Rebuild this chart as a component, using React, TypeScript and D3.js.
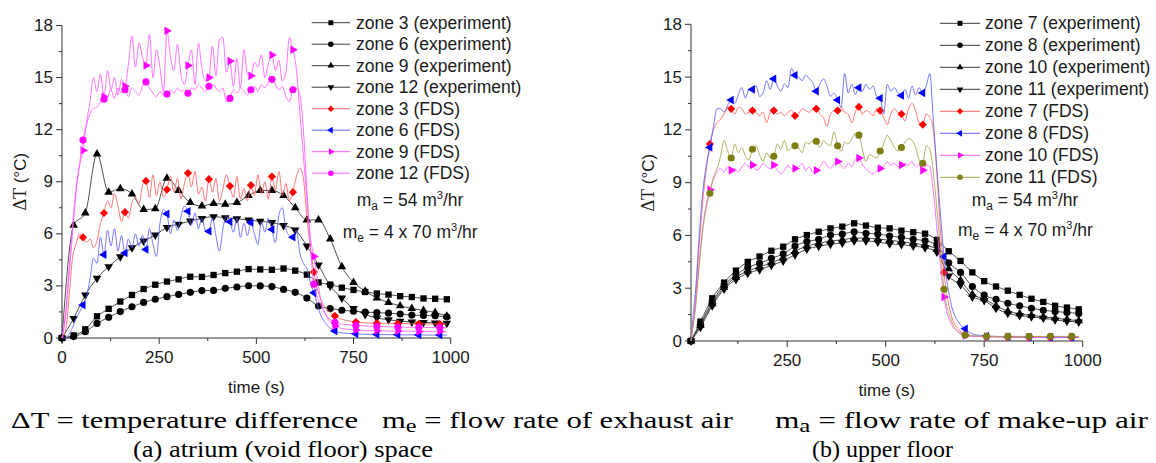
import React from 'react';
import * as d3 from 'd3';

// ---------- time grids ----------
const expTimes = d3.range(0, 1000, 30); // 34 samples
const fdsTimes = [...d3.range(0, 649, 9), ...d3.range(666, 1000, 18)]; // 92 samples

// ---------- axis ticks ----------
const yTicks = [0, 3, 6, 9, 12, 15, 18];
const yMinor = [1.5, 4.5, 7.5, 10.5, 13.5, 16.5];
const xTicksA = [0, 250, 500, 750, 1000];
const xTicksB = [250, 500, 750, 1000];
const xMinor = [125, 375, 625, 875];

// ---------- (a) atrium: experiments ----------
const zone3Exp = [0, 0.15, 0.5, 1.25, 1.68, 2.1, 2.48, 2.82, 3.07, 3.25, 3.38, 3.53, 3.52, 3.63, 3.74, 3.82, 3.97, 3.95, 3.93, 4.0, 3.88, 3.65, 3.2, 3.08, 2.9, 2.77, 2.65, 2.56, 2.5, 2.41, 2.36, 2.28, 2.26, 2.23];
const zone6Exp = [0, 0.08, 0.36, 0.84, 1.19, 1.52, 1.8, 2.05, 2.23, 2.38, 2.51, 2.63, 2.73, 2.74, 2.86, 2.94, 3.01, 3.0, 2.96, 2.8, 2.63, 2.3, 1.84, 1.7, 1.6, 1.54, 1.5, 1.46, 1.43, 1.38, 1.32, 1.3, 1.28, 1.22];
const zone9Exp = [0, 6.5, 7.2, 10.6, 8.4, 8.6, 8.3, 7.4, 7.45, 9.2, 8.5, 7.8, 7.6, 7.75, 7.7, 7.8, 8.2, 8.5, 8.5, 8.2, 7.5, 6.8, 6.8, 5.7, 4.1, 3.2, 2.7, 2.3, 2.05, 1.85, 1.7, 1.58, 1.47, 1.25];
const zone12Exp = [0, 1.13, 2.48, 3.44, 4.11, 4.68, 5.2, 5.59, 5.93, 6.37, 6.56, 6.74, 6.89, 6.99, 6.93, 6.87, 6.8, 6.72, 6.65, 6.48, 6.22, 5.3, 4.2, 3.0, 2.3, 1.7, 1.35, 1.15, 1.05, 0.97, 0.92, 0.9, 0.87, 0.85];

// ---------- (a) atrium: FDS ----------
const zone3Fds = [
  0, 0.4, 2.3, 4.6, 5.4, 6.0,
  5.8, 5.5, 5.7, 5.2, 5.6, 6.6,
  7.2, 7.9, 7.5, 8.3, 7.6, 6.7,
  7.25, 6.9, 7.8, 8.1, 7.7, 8.8,
  9.05, 8.1, 9.4, 8.2, 9.0, 8.1,
  8.55, 9.3, 8.4, 9.2, 8.0, 8.9,
  9.5, 8.7, 9.6, 8.3, 8.7, 7.9,
  9.15, 8.4, 9.2, 7.9, 8.6, 9.4,
  8.75, 8.1, 9.3, 8.0, 8.6, 7.9,
  8.8, 8.2, 9.4, 8.3, 9.0, 8.0,
  9.3, 8.5, 9.6, 8.2, 8.9, 7.9,
  8.4, 9.3, 9.8, 9.2, 7.0, 5.2,
  3.8,
  2.2, 1.6, 1.27, 1.08, 0.98, 0.92, 0.88, 0.86, 0.85, 0.84, 0.84, 0.83, 0.83, 0.82, 0.82, 0.81, 0.81, 0.8, 0.8,
];
const zone6Fds = [
  0, 0, 0.2, 0.6, 1.1, 1.5,
  1.9, 2.4, 3.4, 4.6, 4.3, 5.8,
  4.8, 6.2, 5.3, 6.3, 5.0, 5.9,
  4.9, 5.7, 5.2, 6.0, 5.3, 5.9,
  5.1, 6.3, 5.4, 4.7, 6.6, 7.4,
  7.15, 6.0, 6.8, 6.2, 7.0, 7.6,
  7.3, 6.5, 7.2, 6.3, 6.9, 6.2,
  6.15, 6.9, 5.9, 5.0, 6.3, 7.0,
  6.7, 6.1, 6.9, 5.8, 6.6, 5.9,
  6.65, 6.0, 5.4, 6.7, 6.1, 6.9,
  6.25, 5.5, 7.1, 7.5, 6.3, 5.9,
  5.8, 6.2, 4.9, 4.3, 4.0, 3.2,
  2.6,
  1.3, 0.7, 0.4, 0.3, 0.26, 0.24, 0.22, 0.21, 0.2, 0.2, 0.19, 0.19, 0.18, 0.18, 0.18, 0.17, 0.17, 0.17, 0.17,
];
const zone9Fds = [
  0, 1.4, 3.9, 6.4, 8.6, 9.9,
  10.8, 12.4, 13.6, 15.0, 14.2, 15.2,
  13.9, 15.4, 14.3, 15.0, 14.0, 14.9,
  14.5, 15.8, 17.4, 15.6, 17.0, 16.2,
  15.7, 17.5, 15.0, 16.6, 15.6, 14.2,
  17.7, 16.2, 15.4, 16.9, 15.2, 14.6,
  15.7, 16.6, 14.6, 17.0, 15.5, 14.8,
  15.0, 16.8, 15.1, 17.2, 17.3, 15.3,
  15.95, 14.5, 16.1, 14.4, 16.6, 15.2,
  15.1, 15.9, 15.6, 16.3, 15.0, 15.8,
  16.3, 15.4, 16.0, 14.8, 15.3, 17.3,
  16.6, 15.5, 13.0, 10.5, 8.0, 5.8,
  4.7,
  2.2, 1.1, 0.7, 0.55, 0.5, 0.46, 0.44, 0.43, 0.42, 0.41, 0.4, 0.4, 0.39, 0.39, 0.38, 0.38, 0.37, 0.37, 0.37,
];
const zone12Fds = [
  0, 1.2, 3.5, 6.0, 8.3, 10.0,
  11.4, 12.3, 12.9, 13.2, 13.3, 13.6,
  13.75, 13.9, 14.3, 13.8, 14.4, 14.1,
  14.3, 13.9, 14.4, 14.2, 14.0, 14.5,
  14.75, 14.4, 14.1, 13.9, 14.2, 14.0,
  14.05, 14.3, 14.1, 14.4, 14.2, 14.3,
  14.1, 14.4, 14.3, 14.6, 14.4, 14.2,
  14.5, 14.6, 14.4, 14.2, 14.4, 13.6,
  13.8, 14.3, 14.1, 14.4, 14.2, 14.0,
  14.3, 14.5, 14.2, 14.6, 14.4, 14.7,
  14.9, 14.6, 14.3, 14.5, 13.9, 13.6,
  14.3, 14.4, 14.0, 12.0, 8.5, 5.3,
  3.1,
  1.9, 1.2, 0.9, 0.8, 0.76, 0.73, 0.7, 0.68, 0.66, 0.65, 0.64, 0.63, 0.62, 0.62, 0.61, 0.6, 0.6, 0.6, 0.59,
];

// ---------- (b) upper floor: experiments ----------
const zone7Exp = [0, 1.1, 2.43, 3.32, 4.0, 4.5, 4.8, 5.13, 5.36, 5.78, 6.02, 6.21, 6.4, 6.5, 6.69, 6.56, 6.44, 6.4, 6.27, 6.18, 6.1, 5.75, 5.1, 4.55, 3.9, 3.4, 3.1, 2.86, 2.62, 2.4, 2.22, 2.0, 1.9, 1.8];
const zone8Exp = [0, 0.97, 2.24, 3.18, 3.75, 4.19, 4.41, 4.7, 4.95, 5.4, 5.65, 5.78, 6.02, 6.08, 6.21, 6.12, 6.08, 5.97, 5.89, 5.78, 5.7, 5.45, 4.45, 3.9, 3.1, 2.61, 2.37, 2.14, 2.0, 1.86, 1.75, 1.68, 1.62, 1.57];
const zone10Exp = [0, 0.88, 2.12, 3.05, 3.62, 3.98, 4.2, 4.45, 4.72, 5.1, 5.4, 5.55, 5.68, 5.75, 5.85, 5.85, 5.8, 5.72, 5.65, 5.55, 5.45, 5.2, 4.1, 3.45, 2.65, 2.4, 2.0, 1.7, 1.55, 1.45, 1.38, 1.3, 1.22, 1.15];
const zone11Exp = [0, 0.78, 2.0, 2.95, 3.5, 3.85, 4.05, 4.3, 4.55, 4.9, 5.22, 5.38, 5.5, 5.57, 5.68, 5.68, 5.62, 5.52, 5.48, 5.4, 5.3, 5.05, 3.7, 3.2, 2.5, 2.3, 1.86, 1.57, 1.45, 1.38, 1.3, 1.2, 1.12, 1.08];

// ---------- (b) upper floor: FDS ----------
const zone7Fds = [
  0, 0.5, 2.5, 5.5, 8.0, 9.8,
  11.2, 12.0, 12.4, 12.6, 12.9, 13.3,
  13.2, 12.9, 13.3, 13.2, 12.9, 13.0,
  13.1, 13.0, 12.8, 13.0, 12.4, 13.0,
  13.1, 12.9, 13.0, 12.8, 13.0, 13.1,
  12.8, 12.9, 13.2, 13.1, 13.0, 13.2,
  13.2, 12.9, 12.7, 12.2, 12.9, 13.1,
  13.1, 13.3, 13.0, 12.9, 12.4, 13.0,
  13.3, 12.9, 13.1, 13.0, 12.8, 13.2,
  13.1, 12.7, 12.3, 12.9, 13.2, 13.0,
  12.9, 12.5, 13.2, 13.5, 13.1, 12.4,
  12.3, 12.9, 12.7, 12.0, 9.5, 6.3,
  3.9,
  1.5, 0.7, 0.35, 0.28, 0.25, 0.24, 0.23, 0.22, 0.22, 0.21, 0.21, 0.21, 0.2, 0.2, 0.2, 0.2, 0.2, 0.2, 0.2,
];
const zone8Fds = [
  0, 0.8, 3.0, 6.0, 8.5, 10.0,
  11.0, 12.2, 13.2, 13.2, 13.0, 13.4,
  13.7, 13.5, 14.0, 14.4, 13.8, 14.3,
  14.3, 14.5, 13.9, 14.1, 14.8, 14.3,
  14.9, 14.5, 14.2, 14.6, 14.4, 15.5,
  15.1, 15.0, 14.8, 15.1, 14.9, 14.7,
  14.2, 14.6, 14.9, 14.5, 13.9, 14.1,
  13.7, 13.3, 15.2, 14.1, 14.6, 14.0,
  14.4, 14.2, 14.6, 14.3, 14.5, 13.9,
  13.8, 12.9, 14.6, 14.2, 14.4, 14.1,
  13.95, 14.3, 13.8, 14.5, 14.0, 14.4,
  14.1, 14.5, 15.2, 12.5, 9.8, 7.2,
  4.8,
  2.1, 1.1, 0.7, 0.4, 0.32, 0.28, 0.26, 0.25, 0.24, 0.24, 0.23, 0.23, 0.23, 0.22, 0.22, 0.22, 0.22, 0.22, 0.22,
];
const zone10Fds = [
  0, 0.6, 2.2, 4.5, 6.5, 7.8,
  8.6, 9.2, 9.6, 9.8, 9.6, 9.9,
  9.7, 9.8, 9.6, 9.9, 10.1, 9.9,
  10.0, 9.7, 9.8, 10.1, 9.9, 9.8,
  10.0, 9.7, 9.5, 9.7, 10.0, 9.8,
  9.8, 9.9, 10.1, 9.7, 9.9, 9.6,
  9.7, 9.9, 10.2, 10.0, 9.8, 10.1,
  10.2, 10.0, 9.8, 10.1, 9.9, 10.3,
  10.4, 10.0, 9.8, 9.6, 9.5, 9.7,
  9.8, 9.9, 10.2, 10.0, 10.1, 9.9,
  10.0, 10.1, 10.0, 10.2, 9.9, 10.0,
  9.7, 10.0, 9.9, 8.5, 6.4, 4.3,
  2.5,
  1.0, 0.5, 0.32, 0.27, 0.26, 0.25, 0.25, 0.24, 0.24, 0.24, 0.24, 0.23, 0.23, 0.23, 0.23, 0.23, 0.23, 0.23, 0.23,
];
const zone11Fds = [
  0, 0.5, 2.0, 4.3, 6.3, 7.6,
  8.4, 9.3, 9.8, 10.5, 11.4, 10.8,
  10.4, 11.2, 10.7, 11.0, 10.5, 10.3,
  10.9, 11.1, 10.6, 10.2, 10.7, 10.4,
  10.5, 11.2, 10.9, 11.4, 10.8, 11.0,
  11.1, 11.0, 10.7, 11.3, 11.2, 11.4,
  11.35, 11.0, 11.4, 11.2, 11.1, 11.9,
  11.1, 10.8, 11.3, 11.2, 11.5, 11.8,
  11.7, 10.9, 10.2, 10.6, 10.5, 10.4,
  10.8, 11.2, 11.7, 11.4, 11.0, 10.8,
  11.0, 11.3, 11.5, 11.4, 11.0, 10.3,
  10.1, 11.1, 10.9, 9.6, 7.5, 5.2,
  2.94,
  1.2, 0.55, 0.34, 0.3, 0.28, 0.27, 0.27, 0.26, 0.26, 0.26, 0.26, 0.26, 0.26, 0.26, 0.26, 0.26, 0.26, 0.26, 0.26,
];

// ---------- legend labels ----------
const legendA = ['zone 3 (experiment)', 'zone 6 (experiment)', 'zone 9 (experiment)', 'zone 12 (experiment)', 'zone 3 (FDS)', 'zone 6 (FDS)', 'zone 9 (FDS)', 'zone 12 (FDS)'];
const legendB = ['zone 7 (experiment)', 'zone 8 (experiment)', 'zone 10 (experiment)', 'zone 11 (experiment)', 'zone 7 (FDS)', 'zone 8 (FDS)', 'zone 10 (FDS)', 'zone 11 (FDS)'];

const SANS = "'Liberation Sans', Arial, sans-serif";
const SERIF = "'Liberation Serif', 'Times New Roman', serif";
const TXT = '#1a1a1a';

type Shape = 'square' | 'circle' | 'up' | 'down' | 'diamond' | 'left' | 'right';
type Style = { shape: Shape; line: string; mark: string; lw: number };

const EXP_LINE = '#3a3a3a';
const styles: Style[] = [
  { shape: 'square', line: EXP_LINE, mark: '#000', lw: 0.9 },
  { shape: 'circle', line: EXP_LINE, mark: '#000', lw: 0.9 },
  { shape: 'up', line: EXP_LINE, mark: '#000', lw: 0.9 },
  { shape: 'down', line: EXP_LINE, mark: '#000', lw: 0.9 },
  { shape: 'diamond', line: '#ff6060', mark: '#ff0000', lw: 0.85 },
  { shape: 'left', line: '#6060ff', mark: '#0000ff', lw: 0.85 },
  { shape: 'right', line: '#ff5cff', mark: '#ff00ff', lw: 0.85 },
  { shape: 'circle', line: '#ff5cff', mark: '#ff00ff', lw: 0.85 },
];
const stylesB: Style[] = styles.slice(0, 7).concat([{ shape: 'circle', line: '#a3a347', mark: '#7d7d10', lw: 0.85 }]);

function symbolPath(shape: Shape, k: number) {
  const s = d3.symbol();
  if (shape === 'square') return s.type(d3.symbolSquare).size(40 * k)()!;
  if (shape === 'circle') return s.type(d3.symbolCircle).size(40 * k)()!;
  if (shape === 'diamond') return s.type(d3.symbolSquare).size(34 * k)()!;
  return s.type(d3.symbolTriangle).size(32 * k)()!;
}
function symbolRot(shape: Shape) {
  if (shape === 'down') return 180;
  if (shape === 'left') return -90;
  if (shape === 'right') return 90;
  if (shape === 'diamond') return 45;
  return 0;
}

type PanelCfg = {
  xDomain: [number, number];
  xRange: [number, number];
  yRange: [number, number];
  xTicks: number[];
  series: { times: number[]; values: number[]; isFds: boolean }[];
  styles: Style[];
  legend: string[];
  legLine: [number, number];
  legText: number;
  legY0: number;
  legStep: number;
  maX: number;
  meX: number;
  maY: number;
  meY: number;
  yLabelX: number;
};

function Panel({ c }: { c: PanelCfg }) {
  const x = d3.scaleLinear().domain(c.xDomain).range(c.xRange).clamp(true);
  const y = d3.scaleLinear().domain([0, 18]).range(c.yRange);
  const line = d3
    .line<[number, number]>()
    .x((d) => x(d[0]))
    .y((d) => y(d[1]))
    .curve(d3.curveMonotoneX);
  const x0 = c.xRange[0];
  const x1 = x(1000);
  const yb = y(0);
  const yt = y(18);
  const yMid = (yb + yt) / 2;
  return (
    <g>
      <g stroke="#333" strokeWidth={1} fill="none">
        <path d={`M${x0},${yt}V${yb}H${x1}`} />
        {yTicks.map((t) => (
          <line key={'yt' + t} x1={x0 - 6} x2={x0} y1={y(t)} y2={y(t)} />
        ))}
        {yMinor.map((t) => (
          <line key={'ym' + t} x1={x0 - 3} x2={x0} y1={y(t)} y2={y(t)} />
        ))}
        {c.xTicks.map((t) => (
          <line key={'xt' + t} x1={x(t)} x2={x(t)} y1={yb} y2={yb + 6} />
        ))}
        {xMinor.map((t) => (
          <line key={'xm' + t} x1={x(t)} x2={x(t)} y1={yb} y2={yb + 3} />
        ))}
      </g>
      <g fontFamily={SANS} fontSize={17} fill={TXT}>
        {yTicks.map((t) => (
          <text key={'yl' + t} x={x0 - 9} y={y(t)} textAnchor="end" dominantBaseline="central">
            {t}
          </text>
        ))}
        {c.xTicks.map((t) => (
          <text key={'xl' + t} x={x(t)} y={yb + 19} textAnchor="middle" dominantBaseline="central">
            {t}
          </text>
        ))}
        <text x={(x0 + x1) / 2} y={yb + 49} textAnchor="middle" dominantBaseline="central">
          time (s)
        </text>
        <text
          transform={`translate(${c.yLabelX},${yMid}) rotate(-90)`}
          textAnchor="middle"
          dominantBaseline="central"
        >
          <tspan fontFamily={SERIF} fontSize={18}>ΔT</tspan> (°C)
        </text>
      </g>
      {c.series.map((s, i) => {
        const st = c.styles[i];
        const pts = s.times.map((t, j) => [t, s.values[j]] as [number, number]);
        const marks = pts.filter((p) => (s.isFds ? p[0] > 0 && p[0] % 54 === 0 : true));
        const sym = symbolPath(st.shape, 1);
        const rot = symbolRot(st.shape);
        return (
          <g key={'s' + i}>
            <path d={line(pts)!} fill="none" stroke={st.line} strokeWidth={st.lw} />
            {marks.map((p, j) => (
              <path
                key={j}
                d={sym}
                fill={st.mark}
                transform={`translate(${x(p[0])},${y(p[1])}) rotate(${rot})`}
              />
            ))}
          </g>
        );
      })}
      <g fontFamily={SANS} fontSize={17.5} fill={TXT}>
        {c.legend.map((lab, i) => {
          const st = c.styles[i];
          const ly = c.legY0 + i * c.legStep;
          const mx = (c.legLine[0] + c.legLine[1]) / 2;
          return (
            <g key={'lg' + i}>
              <line x1={c.legLine[0]} x2={c.legLine[1]} y1={ly} y2={ly} stroke={st.line} strokeWidth={1} />
              <path
                d={symbolPath(st.shape, 0.6)}
                fill={st.mark}
                transform={`translate(${mx},${ly}) rotate(${symbolRot(st.shape)})`}
              />
              <text x={c.legText} y={ly} dominantBaseline="central">
                {lab}
              </text>
            </g>
          );
        })}
        <text x={c.maX} y={c.maY}>
          m<tspan fontSize={12} dy={4}>a</tspan>
          <tspan dy={-4}> = 54 m</tspan>
          <tspan fontSize={11} dy={-7}>3</tspan>
          <tspan dy={7}>/hr</tspan>
        </text>
        <text x={c.meX} y={c.meY}>
          m<tspan fontSize={12} dy={4}>e</tspan>
          <tspan dy={-4}> = 4 x 70 m</tspan>
          <tspan fontSize={11} dy={-7}>3</tspan>
          <tspan dy={7}>/hr</tspan>
        </text>
      </g>
    </g>
  );
}

const panelA: PanelCfg = {
  xDomain: [0, 1000],
  xRange: [62, 450.7],
  yRange: [338, 25.5],
  xTicks: xTicksA,
  series: [
    { times: expTimes, values: zone3Exp, isFds: false },
    { times: expTimes, values: zone6Exp, isFds: false },
    { times: expTimes, values: zone9Exp, isFds: false },
    { times: expTimes, values: zone12Exp, isFds: false },
    { times: fdsTimes, values: zone3Fds, isFds: true },
    { times: fdsTimes, values: zone6Fds, isFds: true },
    { times: fdsTimes, values: zone9Fds, isFds: true },
    { times: fdsTimes, values: zone12Fds, isFds: true },
  ],
  styles: styles,
  legend: legendA,
  legLine: [311.7, 350],
  legText: 356,
  legY0: 22.7,
  legStep: 21.5,
  maX: 356.7,
  meX: 342.7,
  maY: 206,
  meY: 238,
  yLabelX: 20,
};

const panelB: PanelCfg = {
  xDomain: [6, 1000],
  xRange: [691, 1082.7],
  yRange: [341, 24.3],
  xTicks: xTicksB,
  series: [
    { times: expTimes, values: zone7Exp, isFds: false },
    { times: expTimes, values: zone8Exp, isFds: false },
    { times: expTimes, values: zone10Exp, isFds: false },
    { times: expTimes, values: zone11Exp, isFds: false },
    { times: fdsTimes, values: zone7Fds, isFds: true },
    { times: fdsTimes, values: zone8Fds, isFds: true },
    { times: fdsTimes, values: zone10Fds, isFds: true },
    { times: fdsTimes, values: zone11Fds, isFds: true },
  ],
  styles: stylesB,
  legend: legendB,
  legLine: [940, 980],
  legText: 985,
  legY0: 23.3,
  legStep: 22,
  maX: 971.7,
  meX: 958,
  maY: 206,
  meY: 236,
  yLabelX: 648,
};

export default function App() {
  return (
    <div style={{ position: 'absolute', left: 0, top: 0 }}>
      <svg width={1156} height={463} viewBox="0 0 1156 463" style={{ display: 'block', background: '#fff' }}>
        <rect width={1156} height={463} fill="#fff" />
        <Panel c={panelA} />
        <Panel c={panelB} />
        <g fontFamily={SERIF} fontSize={24} fill="#000">
          <text x={11} y={428} textLength={347} lengthAdjust="spacingAndGlyphs">ΔT = temperature difference</text>
          <text x={382} y={428} textLength={351} lengthAdjust="spacingAndGlyphs">
            m<tspan dy={4} fontSize={19}>e</tspan>
            <tspan dy={-4}> = flow rate of exhaust air</tspan>
          </text>
          <text x={775} y={428} textLength={373} lengthAdjust="spacingAndGlyphs">
            m<tspan dy={4} fontSize={19}>a</tspan>
            <tspan dy={-4}> = flow rate of make-up air</tspan>
          </text>
          <text x={133} y={457} textLength={300} lengthAdjust="spacingAndGlyphs">(a) atrium (void floor) space</text>
          <text x={812} y={457} textLength={141} lengthAdjust="spacingAndGlyphs">(b) upper floor</text>
        </g>
      </svg>
    </div>
  );
}
